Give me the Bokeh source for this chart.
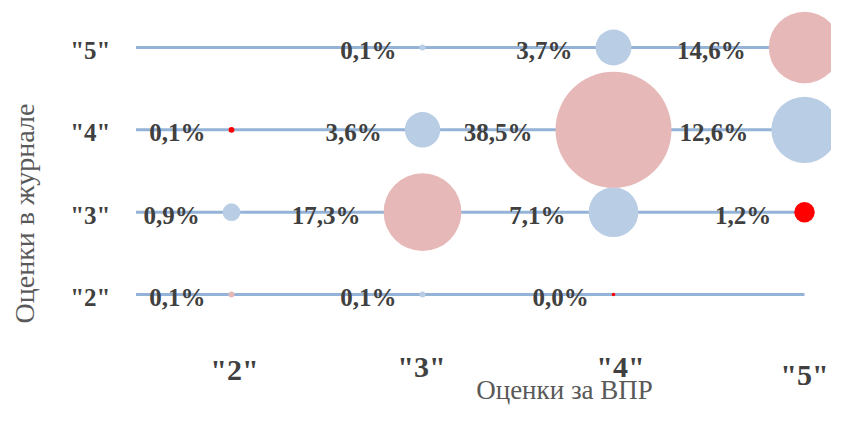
import math
from bokeh.plotting import figure
from bokeh.models import ColumnDataSource, Range1d, Label
from bokeh.core.properties import value
from bokeh.embed import file_html
from bokeh.resources import INLINE

# ---- data ----
grades = [2, 3, 4, 5]
grade_labels = ['"2"', '"3"', '"4"', '"5"']
vpr_grade = [2, 3, 4, 2, 3, 4, 5, 2, 3, 4, 5, 3, 4, 5]
journal_grade = [2, 2, 2, 3, 3, 3, 3, 4, 4, 4, 4, 5, 5, 5]
share_pct = [0.1, 0.1, 0.0, 0.9, 17.3, 7.1, 1.2, 0.1, 3.6, 38.5, 12.6, 0.1, 3.7, 14.6]
category = ["match", "near", "far", "near", "match", "near", "far",
            "far", "near", "match", "near", "near", "near", "match"]
x_title = "Оценки за ВПР"
y_title = "Оценки в журнале"

# ---- styling ----
W, H = 831, 407
PX_X = 191.0      # pixels per grade on x
X2 = 231.0        # px of grade 2
PX_Y = 82.33
Y5 = 47.0         # px (from top) of grade 5
PALETTE = {"match": "#E6B9B8", "near": "#B9CDE5", "far": "#FF0000"}
LINE = "#95B3D7"
TXT = "#404040"
TITLE = "#595959"
RMAX = 58.0
VMAX = max(share_pct)

x_start = 2 - X2 / PX_X
x_end = x_start + W / PX_X
y_end = 5 + Y5 / PX_Y
y_start = y_end - H / PX_Y

p = figure(width=W, height=H, output_backend="svg", toolbar_location=None,
           x_range=Range1d(x_start, x_end), y_range=Range1d(y_start, y_end),
           min_border=0)
p.axis.visible = False
p.grid.visible = False
p.outline_line_color = None
p.background_fill_color = "white"
p.border_fill_color = "white"

# horizontal row lines
p.segment(x0=[1.5] * 4, x1=[5] * 4, y0=grades, y1=grades, line_color=LINE, line_width=3)

radii = [max(RMAX * math.sqrt(v / VMAX), 1.8) for v in share_pct]
colors = [PALETTE[c] for c in category]

src = ColumnDataSource(dict(
    x=vpr_grade, y=journal_grade, size=[2 * r for r in radii], color=colors,
    label=[("%.1f" % v).replace(".", ",") + "%" for v in share_pct],
    xoff=[-(r + 23) for r in radii],
))
p.scatter("x", "y", size="size", fill_color="color", line_color=None, source=src)
p.text("x", "y", text="label", x_offset="xoff", y_offset=3, text_align="right",
       text_baseline="middle", text_font=value("Liberation Serif"), text_font_style="bold",
       text_font_size="25px", text_color=TXT, source=src)

# y tick labels
p.text(x=[2] * 4, y=grades, text=grade_labels, x_offset=-121, y_offset=3,
       text_align="right", text_baseline="middle", text_font=value("Liberation Serif"),
       text_font_style="bold", text_font_size="25px", text_color=TXT)

# x tick labels (slightly staggered as in original)
xt = ColumnDataSource(dict(x=grades, y=[2] * 4, t=grade_labels,
                           xo=[3, -1, 7, 0], yo=[75, 72, 72, 80]))
p.text("x", "y", text="t", x_offset="xo", y_offset="yo", text_align="center",
       text_baseline="middle", text_font=value("Liberation Serif"), text_font_style="bold",
       text_font_size="30px", text_color=TXT, source=xt)

p.add_layout(Label(x=564, y=18, x_units="screen", y_units="screen", text=x_title,
                   text_align="center", text_baseline="middle", text_font="Liberation Serif",
                   text_font_size="27px", text_color=TITLE))
p.add_layout(Label(x=24, y=194, x_units="screen", y_units="screen", text=y_title,
                   angle=math.pi / 2, text_align="center", text_baseline="middle",
                   text_font="Liberation Serif", text_font_size="28px", text_color=TITLE))

open("out.html", "w").write(file_html(p, INLINE))
